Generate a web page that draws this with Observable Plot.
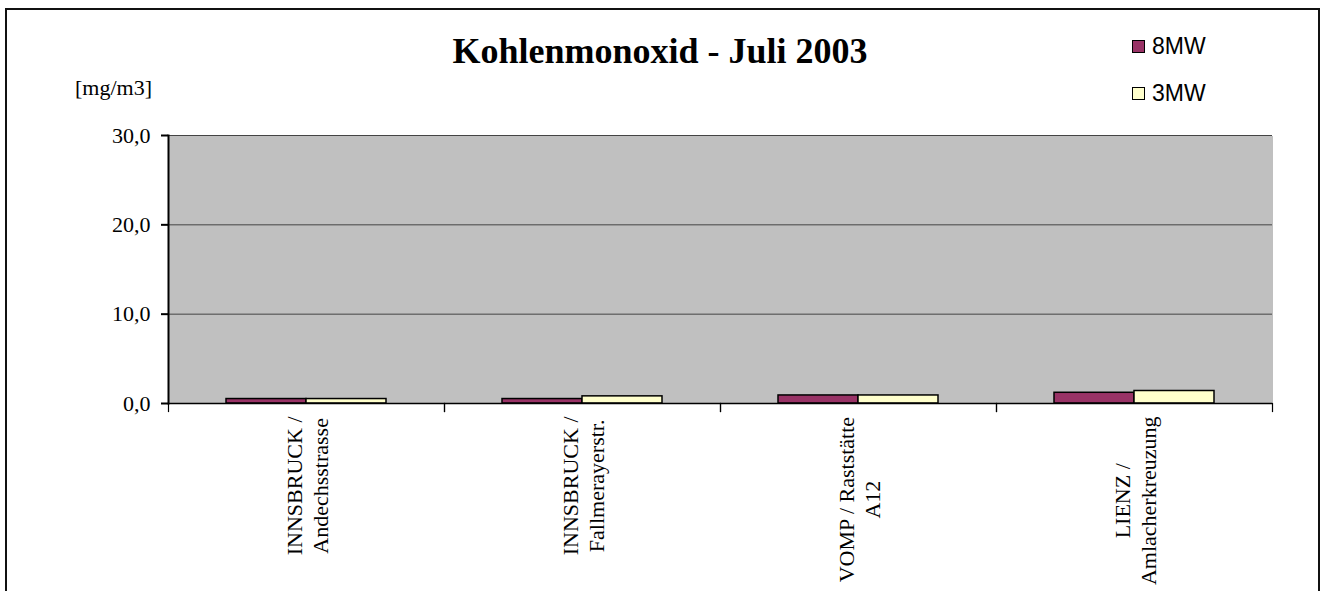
<!DOCTYPE html>
<html>
<head>
<meta charset="utf-8">
<script src="https://cdn.jsdelivr.net/npm/d3@7"></script>
<script src="https://cdn.jsdelivr.net/npm/@observablehq/plot@0.6"></script>
<style>
  html, body { margin: 0; padding: 0; background: #fff; }
  #wrap { position: relative; width: 1327px; height: 591px; overflow: hidden; font-family: "Liberation Serif", "Times New Roman", serif; }
  #border { position: absolute; left: 5px; top: 8px; width: 1315px; height: 640px; border: 2px solid #111; box-sizing: border-box; }
  #chart { position: absolute; left: 0; top: 0; }
  #title { position: absolute; left: 660px; top: 30px; transform: translateX(-50%); font-size: 36px; font-weight: bold; white-space: nowrap; color: #000; }
  #unit { position: absolute; left: 75px; top: 75px; font-size: 22px; color: #000; white-space: nowrap; }
  .leg { position: absolute; left: 1132px; font-family: "Liberation Sans", Arial, sans-serif; font-size: 23px; color: #000; white-space: nowrap; display: flex; align-items: center; }
  .leg span.sw { display: inline-block; width: 11px; height: 11px; border: 1.5px solid #000; margin-right: 7px; }
</style>
</head>
<body>
<div id="wrap">
  <div id="border"></div>
  <div id="chart"></div>
  <div id="title"></div>
  <div id="unit"></div>
  <div id="legend"></div>
</div>
<script>
const title = "Kohlenmonoxid - Juli 2003";
const unitLabel = "[mg/m3]";
const categories = ["INNSBRUCK / Andechsstrasse", "INNSBRUCK / Fallmerayerstr.", "VOMP / Raststätte A12", "LIENZ / Amlacherkreuzung"];
const categoryLabels = ["INNSBRUCK /\nAndechsstrasse", "INNSBRUCK /\nFallmerayerstr.", "VOMP / Raststätte\nA12", "LIENZ /\nAmlacherkreuzung"];
const series = ["8MW", "3MW"];
const values8MW = [0.5, 0.5, 0.9, 1.2];
const values3MW = [0.5, 0.8, 0.9, 1.4];
const seriesColors = ["#993366", "#FFFFCC"];
const yTicks = [0, 10, 20, 30];

const rows = [];
categories.forEach((c, i) => {
  rows.push({cat: c, series: series[0], value: values8MW[i]});
  rows.push({cat: c, series: series[1], value: values3MW[i]});
});

const W = 1327, H = 591;
const mTop = 135, mBottom = 188, mLeft = 168, mRight = 55;
const plotH = H - mTop - mBottom;
const serif = "Liberation Serif, Times New Roman, serif";
const labelFontSize = 22;
const labelGap = 13;

// measure label lines so that each rotated label block starts just below the axis,
// with its lines centred inside the block
const ctx = document.createElement("canvas").getContext("2d");
ctx.font = `${labelFontSize}px "Liberation Serif"`;
const labelOffsets = categoryLabels.map(t => {
  const w = Math.max(...t.split("\n").map(s => ctx.measureText(s).width));
  return labelGap + w / 2;
});

const labelMarks = categories.map((c, i) => Plot.text([c], {
  fx: d => d,
  text: () => categoryLabels[i],
  frameAnchor: "bottom",
  dy: labelOffsets[i],
  rotate: -90,
  textAnchor: "middle",
  lineAnchor: "middle",
  lineHeight: 1.2,
  fontSize: labelFontSize,
  fontFamily: serif,
  fill: "#000"
}));

const chart = Plot.plot({
  width: W,
  height: H,
  marginTop: mTop,
  marginBottom: mBottom,
  marginLeft: mLeft,
  marginRight: mRight,
  style: {background: "transparent", color: "#000", overflow: "visible"},
  fx: {axis: null, domain: categories, padding: 0},
  x: {axis: null, domain: series, paddingInner: 0, paddingOuter: 0.72},
  y: {domain: [0, 30]},
  color: {domain: series, range: seriesColors},
  marks: [
    Plot.frame({fill: "#C0C0C0", stroke: null, insetLeft: -0.5, insetRight: -0.5, shapeRendering: "crispEdges"}),
    Plot.gridY(yTicks.slice(1), {stroke: "#444", strokeOpacity: 1, strokeWidth: 1}),
    Plot.barY(rows, {fx: "cat", x: "series", y: "value", fill: "series", stroke: "#000", strokeWidth: 1.5}),
    Plot.ruleY([0], {stroke: "#000", strokeWidth: 1.5}),
    Plot.frame({anchor: "left", stroke: "#000", strokeWidth: 1.2, insetTop: plotH, insetBottom: -8}),
    Plot.frame({anchor: "right", stroke: "#000", strokeWidth: 1.2, insetTop: plotH, insetBottom: -8}),
    Plot.frame({anchor: "left", facetAnchor: "left", stroke: "#000", strokeWidth: 2}),
    Plot.axisY({
      ticks: yTicks,
      tickFormat: d => d.toFixed(1).replace(".", ","),
      tickSize: 7,
      tickPadding: 11,
      strokeWidth: 2,
      fontSize: 22,
      fontFamily: serif,
      label: null
    }),
    ...labelMarks
  ]
});
document.getElementById("chart").appendChild(chart);
document.getElementById("title").textContent = title;
document.getElementById("unit").textContent = unitLabel;

const legend = document.getElementById("legend");
const legTops = [33, 80];
series.forEach((s, i) => {
  const d = document.createElement("div");
  d.className = "leg";
  d.style.top = legTops[i] + "px";
  const sw = document.createElement("span");
  sw.className = "sw";
  sw.style.background = seriesColors[i];
  d.appendChild(sw);
  d.appendChild(document.createTextNode(s));
  legend.appendChild(d);
});
</script>
</body>
</html>
